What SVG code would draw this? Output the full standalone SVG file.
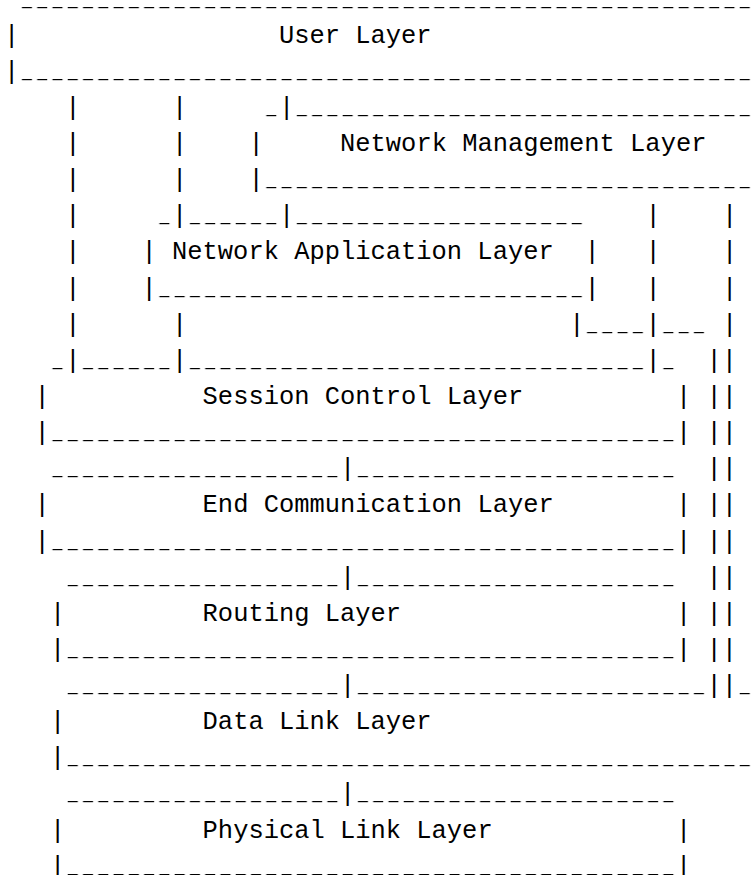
<svg xmlns="http://www.w3.org/2000/svg" width="752" height="875" viewBox="0 0 752 875">
<style>
text{font-family:"Liberation Mono","DejaVu Sans Mono",monospace;font-size:25.45px;fill:#000;white-space:pre}
.u{mask:url(#dash);transform:translateY(-2px)}
</style>
<defs>
<pattern id="dashpat" patternUnits="userSpaceOnUse" x="4.07" y="-20" width="15.2725" height="920"><rect x="2.6" y="0" width="10" height="920" fill="#fff"/></pattern>
<mask id="dash" maskUnits="userSpaceOnUse" x="0" y="-20" width="752" height="920"><rect x="0" y="-20" width="752" height="920" fill="url(#dashpat)"/></mask>
</defs>
<rect x="0" y="0" width="752" height="875" fill="#fff"/>

<g id="user-layer">
<text class="u" x="19.34" y="6.57" textLength="733.08" lengthAdjust="spacing">________________________________________________</text>
<text x="4.07" y="42.70">|</text>
<text x="278.98" y="42.70">User Layer</text>
<text x="4.07" y="78.83">|</text>
<text class="u" x="19.34" y="78.83" textLength="733.08" lengthAdjust="spacing">________________________________________________</text>
</g>

<g id="network-management-layer">
<text class="u" x="263.70" y="114.96">_</text>
<text class="u" x="294.25" y="114.96" textLength="458.18" lengthAdjust="spacing">______________________________</text>
<text x="248.43" y="151.09">|</text>
<text x="340.07" y="151.09">Network Management Layer</text>
<text x="248.43" y="187.22">|</text>
<text class="u" x="263.70" y="187.22" textLength="488.72" lengthAdjust="spacing">________________________________</text>
</g>

<g id="network-application-layer">
<text class="u" x="156.80" y="223.35">_</text>
<text class="u" x="187.34" y="223.35" textLength="91.64" lengthAdjust="spacing">______</text>
<text class="u" x="294.25" y="223.35" textLength="290.18" lengthAdjust="spacing">___________________</text>
<text x="141.52" y="259.48">|</text>
<text x="172.07" y="259.48">Network Application Layer</text>
<text x="584.43" y="259.48">|</text>
<text x="141.52" y="295.61">|</text>
<text class="u" x="156.80" y="295.61" textLength="427.63" lengthAdjust="spacing">____________________________</text>
<text x="584.43" y="295.61">|</text>
</g>

<g id="session-control-layer">
<text class="u" x="49.89" y="367.87">_</text>
<text class="u" x="80.43" y="367.87" textLength="91.64" lengthAdjust="spacing">______</text>
<text class="u" x="187.34" y="367.87" textLength="458.18" lengthAdjust="spacing">______________________________</text>
<text class="u" x="660.79" y="367.87">_</text>
<text x="34.62" y="404.00">|</text>
<text x="202.61" y="404.00">Session Control Layer</text>
<text x="676.06" y="404.00">|</text>
<text x="34.62" y="440.13">|</text>
<text class="u" x="49.89" y="440.13" textLength="626.17" lengthAdjust="spacing">_________________________________________</text>
<text x="676.06" y="440.13">|</text>
</g>

<g id="end-communication-layer">
<text class="u" x="49.89" y="476.26" textLength="290.18" lengthAdjust="spacing">___________________</text>
<text class="u" x="355.34" y="476.26" textLength="320.72" lengthAdjust="spacing">_____________________</text>
<text x="34.62" y="512.39">|</text>
<text x="202.61" y="512.39">End Communication Layer</text>
<text x="676.06" y="512.39">|</text>
<text x="34.62" y="548.52">|</text>
<text class="u" x="49.89" y="548.52" textLength="626.17" lengthAdjust="spacing">_________________________________________</text>
<text x="676.06" y="548.52">|</text>
</g>

<g id="routing-layer">
<text class="u" x="65.16" y="584.65" textLength="274.91" lengthAdjust="spacing">__________________</text>
<text class="u" x="355.34" y="584.65" textLength="320.72" lengthAdjust="spacing">_____________________</text>
<text x="49.89" y="620.78">|</text>
<text x="202.61" y="620.78">Routing Layer</text>
<text x="676.06" y="620.78">|</text>
<text x="49.89" y="656.91">|</text>
<text class="u" x="65.16" y="656.91" textLength="610.90" lengthAdjust="spacing">________________________________________</text>
<text x="676.06" y="656.91">|</text>
</g>

<g id="data-link-layer">
<text class="u" x="65.16" y="693.04" textLength="274.91" lengthAdjust="spacing">__________________</text>
<text class="u" x="355.34" y="693.04" textLength="351.27" lengthAdjust="spacing">_______________________</text>
<text class="u" x="737.15" y="693.04">_</text>
<text x="49.89" y="729.17">|</text>
<text x="202.61" y="729.17">Data Link Layer</text>
<text x="49.89" y="765.30">|</text>
<text class="u" x="65.16" y="765.30" textLength="687.26" lengthAdjust="spacing">_____________________________________________</text>
</g>

<g id="physical-link-layer">
<text class="u" x="65.16" y="801.43" textLength="274.91" lengthAdjust="spacing">__________________</text>
<text class="u" x="355.34" y="801.43" textLength="320.72" lengthAdjust="spacing">_____________________</text>
<text x="49.89" y="837.56">|</text>
<text x="202.61" y="837.56">Physical Link Layer</text>
<text x="676.06" y="837.56">|</text>
<text x="49.89" y="873.69">|</text>
<text class="u" x="65.16" y="873.69" textLength="610.90" lengthAdjust="spacing">________________________________________</text>
<text x="676.06" y="873.69">|</text>
</g>

<g id="connectors">
<text x="65.16" y="114.96">|</text>
<text x="65.16" y="151.09">|</text>
<text x="65.16" y="187.22">|</text>
<text x="65.16" y="223.35">|</text>
<text x="65.16" y="259.48">|</text>
<text x="65.16" y="295.61">|</text>
<text x="65.16" y="331.74">|</text>
<text x="65.16" y="367.87">|</text>
<text x="172.07" y="114.96">|</text>
<text x="172.07" y="151.09">|</text>
<text x="172.07" y="187.22">|</text>
<text x="172.07" y="223.35">|</text>
<text x="172.07" y="331.74">|</text>
<text x="172.07" y="367.87">|</text>
<text x="278.98" y="114.96">|</text>
<text x="278.98" y="223.35">|</text>
<text x="569.15" y="331.74">|</text>
<text class="u" x="584.43" y="331.74" textLength="61.09" lengthAdjust="spacing">____</text>
<text class="u" x="660.79" y="331.74" textLength="45.82" lengthAdjust="spacing">___</text>
<text x="645.52" y="223.35">|</text>
<text x="645.52" y="259.48">|</text>
<text x="645.52" y="295.61">|</text>
<text x="645.52" y="331.74">|</text>
<text x="645.52" y="367.87">|</text>
<text x="721.88" y="223.35">|</text>
<text x="721.88" y="259.48">|</text>
<text x="721.88" y="295.61">|</text>
<text x="721.88" y="331.74">|</text>
<text x="706.61" y="367.87">||</text>
<text x="706.61" y="404.00">||</text>
<text x="706.61" y="440.13">||</text>
<text x="706.61" y="476.26">||</text>
<text x="706.61" y="512.39">||</text>
<text x="706.61" y="548.52">||</text>
<text x="706.61" y="584.65">||</text>
<text x="706.61" y="620.78">||</text>
<text x="706.61" y="656.91">||</text>
<text x="706.61" y="693.04">||</text>
<text x="340.07" y="476.26">|</text>
<text x="340.07" y="584.65">|</text>
<text x="340.07" y="693.04">|</text>
<text x="340.07" y="801.43">|</text>
</g>
</svg>
